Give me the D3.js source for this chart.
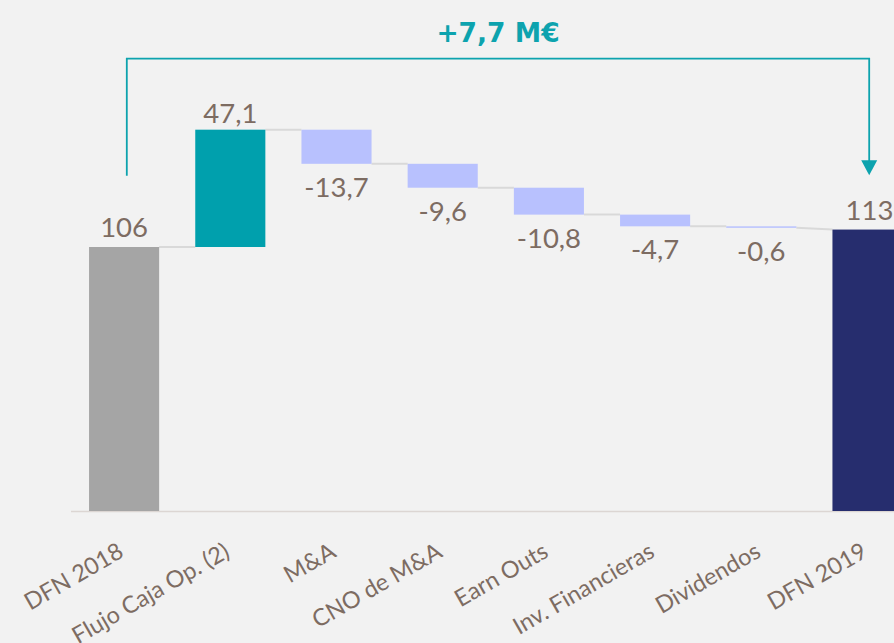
<!DOCTYPE html>
<html><head><meta charset="utf-8">
<script src="https://cdn.jsdelivr.net/npm/d3@7/dist/d3.min.js"></script>
<style>
html,body{margin:0;padding:0;background:#f2f2f2;overflow:hidden;}
svg{display:block;}
</style></head>
<body>
<svg id="c" width="894" height="643"></svg>
<script>
const categories = ["DFN 2018","Flujo Caja Op. (2)","M&A","CNO de M&A","Earn Outs","Inv. Financieras","Dividendos","DFN 2019"];
const kinds = ["total","up","down","down","down","down","down","total"];
const values = [106, 47.1, -13.7, -9.6, -10.8, -4.7, -0.6, 113];
const valueLabels = ["106","47,1","-13,7","-9,6","-10,8","-4,7","-0,6","113"];
const deltaLabel = "+7,7 M€";

const colors = {total0:"#a5a5a5", up:"#00a0ad", down:"#b8c1fe", total1:"#262d6e"};
const textCol = "#7d6c62";
const teal = "#0da3ae";

const svg = d3.select("#c");
const W = 894, H = 643;
svg.append("rect").attr("width",W).attr("height",H).attr("fill","#f2f2f2");

const x = d3.scaleBand().domain(categories).range([71, 920.6]).paddingInner(0.34).paddingOuter(0.17);
const y = d3.scaleLinear().domain([0,160]).range([511, 511-160*2.4906]);

let run = 0;
const segs = categories.map((c,i)=>{
  let start, end;
  if (kinds[i]==="total"){ start=0; end=values[i]; run=values[i]; }
  else { start=run; end=run+values[i]; run=end; }
  return {c, i, kind:kinds[i], start, end, v:values[i], label:valueLabels[i]};
});

svg.append("line").attr("x1",71).attr("x2",W).attr("y1",y(0)+0.5).attr("y2",y(0)+0.5)
  .attr("stroke","#dcd6d3").attr("stroke-width",1.5);

for (let i=0;i<segs.length-1;i++){
  const a=segs[i], b=segs[i+1];
  const yA = a.end;
  const yB = b.kind==="total" ? b.end : b.start;
  svg.append("line")
    .attr("x1", x(a.c)+x.bandwidth()).attr("x2", x(b.c))
    .attr("y1", y(yA)).attr("y2", y(yB))
    .attr("stroke","#d9d9d9").attr("stroke-width",2);
}

svg.selectAll("rect.bar").data(segs).enter().append("rect")
  .attr("class","bar")
  .attr("x", d=>x(d.c))
  .attr("width", x.bandwidth())
  .attr("y", d=>y(Math.max(d.start,d.end)))
  .attr("height", d=>Math.max(1.2, Math.abs(y(d.start)-y(d.end))))
  .attr("fill", d=> d.kind==="total" ? (d.i===0?colors.total0:colors.total1) : (d.kind==="up"?colors.up:colors.down));

svg.selectAll("text.val").data(segs).enter().append("text")
  .attr("class","val")
  .attr("x", d=>x(d.c)+x.bandwidth()/2 + (d.i===segs.length-1?2:0))
  .attr("y", d=> d.kind==="down" ? y(d.end)+33 : y(Math.max(d.start,d.end)) - (d.kind==="total"?9.5:7))
  .attr("text-anchor","middle")
  .attr("font-family","Lato, 'Open Sans', sans-serif")
  .attr("font-size",27.5)
  .attr("fill",textCol)
  .text(d=>d.label);

svg.selectAll("text.cat").data(categories).enter().append("text")
  .attr("class","cat")
  .attr("transform", d=>`translate(${x(d)+x.bandwidth()/2+1},${y(0)+45}) rotate(-30)`)
  .attr("text-anchor","end")
  .attr("font-family","Lato, 'Open Sans', sans-serif")
  .attr("font-size",23.5)
  .attr("fill",textCol)
  .text(d=>d);

const xl = x(categories[0])+x.bandwidth()/2+2.7;
const xr = x(categories[categories.length-1])+x.bandwidth()/2+1.7;
const yTop = 58.7;
const yLeft = y(values[0]) - 71.3;
const yTip = y(values[values.length-1]) - 54.3;
svg.append("path")
  .attr("d", `M${xl},${yLeft} V${yTop} H${xr} V${yTip-14}`)
  .attr("fill","none").attr("stroke",teal).attr("stroke-width",1.8);
svg.append("path")
  .attr("d", `M${xr-8},${yTip-15} L${xr+8},${yTip-15} L${xr},${yTip} Z`)
  .attr("fill",teal);

svg.append("text")
  .attr("x", (xl+xr)/2 ).attr("y", 41.5)
  .attr("text-anchor","middle")
  .attr("font-family","'DejaVu Sans', Verdana, sans-serif")
  .attr("font-weight","bold")
  .attr("font-size",26.5)
  .attr("fill",teal)
  .text(deltaLabel);
</script>
</body></html>
